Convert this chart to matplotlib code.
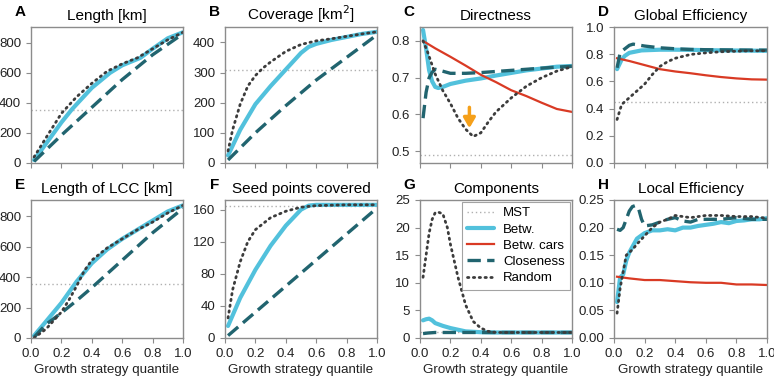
"""
plot.py — growth strategy comparison, 8 panels (A–H)
"""
import matplotlib
matplotlib.use("Agg")
import matplotlib.pyplot as plt
from matplotlib.lines import Line2D

plt.rcParams["font.family"] = ["Liberation Sans", "DejaVu Sans"]

COL_BETW = "#52c1dc"
COL_CARS = "#d93a24"
COL_CLOS = "#21646f"
COL_RAND = "#3c3c3c"
COL_MST = "#b0b0b0"

# ---- data: (x, y) per strategy -----------------------------------------
# A: Length [km]
A_MST = 355
A_betw_x = [0.02, 0.1, 0.2, 0.27, 0.4, 0.52, 0.6, 0.72, 0.8, 0.9, 1.0]
A_betw_y = [20, 130, 270, 358, 500, 600, 650, 700, 760, 830, 870]
A_rand_x = [0.02, 0.1, 0.2, 0.3, 0.4, 0.5, 0.6, 0.7, 0.8, 0.9, 1.0]
A_rand_y = [40, 170, 330, 440, 530, 610, 660, 700, 760, 820, 870]
A_clos_x = [0.02, 0.2, 0.4, 0.6, 0.8, 1.0]
A_clos_y = [10, 185, 370, 555, 720, 860]

# B: Coverage [km2]
B_MST = 308
B_betw_x = [0.02, 0.1, 0.2, 0.3, 0.4, 0.5, 0.55, 0.6, 0.7, 0.8, 0.9, 1.0]
B_betw_y = [25, 110, 195, 255, 310, 365, 385, 395, 408, 418, 428, 435]
B_rand_x = [0.02, 0.05, 0.1, 0.15, 0.2, 0.25, 0.3, 0.4, 0.5, 0.6, 0.7, 0.8, 0.9, 1.0]
B_rand_y = [40, 110, 195, 255, 290, 315, 335, 370, 393, 405, 412, 420, 428, 435]
B_clos_x = [0.02, 0.2, 0.4, 0.6, 0.8, 1.0]
B_clos_y = [10, 100, 190, 275, 350, 425]

# C: Directness
C_MST = 0.491
C_betw_x = [0.02, 0.04, 0.06, 0.08, 0.1, 0.12, 0.15, 0.2, 0.3, 0.4, 0.5, 0.6, 0.7, 0.8, 0.9, 1.0]
C_betw_y = [0.83, 0.78, 0.72, 0.69, 0.675, 0.672, 0.675, 0.683, 0.692, 0.698, 0.706, 0.713, 0.72, 0.725, 0.73, 0.732]
C_clos_x = [0.02, 0.04, 0.06, 0.08, 0.1, 0.13, 0.2, 0.3, 0.4, 0.5, 0.6, 0.7, 0.8, 0.9, 1.0]
C_clos_y = [0.59, 0.66, 0.70, 0.715, 0.723, 0.72, 0.712, 0.712, 0.714, 0.717, 0.72, 0.723, 0.726, 0.729, 0.731]
C_cars_x = [0.02, 0.1, 0.2, 0.3, 0.4, 0.5, 0.6, 0.7, 0.8, 0.9, 1.0]
C_cars_y = [0.80, 0.78, 0.757, 0.733, 0.708, 0.688, 0.666, 0.65, 0.632, 0.615, 0.607]
C_rand_x = [0.02, 0.05, 0.1, 0.15, 0.2, 0.25, 0.3, 0.35, 0.4, 0.45, 0.5, 0.6, 0.7, 0.8, 0.9, 1.0]
C_rand_y = [0.80, 0.77, 0.71, 0.665, 0.63, 0.59, 0.56, 0.54, 0.55, 0.58, 0.607, 0.645, 0.677, 0.70, 0.718, 0.73]
C_arrow_x = 0.325
C_arrow_y = (0.627, 0.555)

# D: Global Efficiency
D_MST = 0.447
D_betw_x = [0.02, 0.05, 0.07, 0.1, 0.18, 0.3, 0.4, 0.5, 0.6, 0.7, 0.8, 0.9, 1.0]
D_betw_y = [0.69, 0.76, 0.787, 0.81, 0.828, 0.833, 0.833, 0.832, 0.83, 0.828, 0.827, 0.826, 0.825]
D_clos_x = [0.02, 0.04, 0.06, 0.1, 0.125, 0.2, 0.3, 0.4, 0.5, 0.6, 0.7, 0.8, 0.9, 1.0]
D_clos_y = [0.70, 0.81, 0.83, 0.865, 0.874, 0.86, 0.847, 0.84, 0.835, 0.833, 0.832, 0.831, 0.83, 0.83]
D_cars_x = [0.02, 0.1, 0.2, 0.3, 0.4, 0.5, 0.6, 0.7, 0.8, 0.9, 1.0]
D_cars_y = [0.77, 0.75, 0.72, 0.69, 0.673, 0.66, 0.645, 0.632, 0.622, 0.615, 0.613]
D_rand_x = [0.02, 0.05, 0.1, 0.15, 0.2, 0.25, 0.3, 0.35, 0.4, 0.5, 0.6, 0.7, 0.8, 0.9, 1.0]
D_rand_y = [0.32, 0.43, 0.48, 0.53, 0.58, 0.65, 0.71, 0.745, 0.77, 0.798, 0.81, 0.818, 0.822, 0.825, 0.825]

# E: Length of LCC [km]
E_MST = 355
E_betw_x = [0.02, 0.1, 0.2, 0.3, 0.4, 0.5, 0.6, 0.7, 0.8, 0.9, 1.0]
E_betw_y = [15, 110, 230, 370, 490, 580, 650, 710, 770, 830, 870]
E_rand_x = [0.02, 0.1, 0.2, 0.25, 0.3, 0.35, 0.4, 0.5, 0.6, 0.7, 0.8, 0.9, 1.0]
E_rand_y = [0, 60, 170, 250, 340, 440, 510, 590, 650, 710, 760, 820, 870]
E_clos_x = [0.02, 0.1, 0.2, 0.3, 0.4, 0.5, 0.6, 0.7, 0.8, 0.9, 1.0]
E_clos_y = [5, 90, 165, 245, 330, 420, 510, 600, 690, 770, 850]

# F: Seed points covered
F_MST = 165
F_betw_x = [0.02, 0.1, 0.2, 0.3, 0.4, 0.5, 0.55, 0.6, 0.8, 1.0]
F_betw_y = [15, 50, 85, 115, 140, 160, 165, 166, 166, 166]
F_rand_x = [0.02, 0.05, 0.1, 0.15, 0.2, 0.3, 0.4, 0.5, 0.6, 0.8, 1.0]
F_rand_y = [25, 60, 95, 120, 135, 150, 158, 163, 165, 166, 166]
F_clos_x = [0.02, 1.0]
F_clos_y = [3, 162]

# G: Components
G_MST = 1
G_betw_x = [0.02, 0.04, 0.06, 0.08, 0.1, 0.15, 0.2, 0.25, 0.3, 0.4, 0.5, 1.0]
G_betw_y = [3.2, 3.4, 3.5, 3.2, 2.7, 2.2, 1.8, 1.5, 1.2, 1.05, 1.0, 1.0]
G_clos_x = [0.02, 0.05, 0.1, 1.0]
G_clos_y = [0.8, 0.9, 1.0, 1.0]
G_rand_x = [0.02, 0.04, 0.06, 0.08, 0.1, 0.12, 0.15, 0.18, 0.2, 0.25, 0.3, 0.35, 0.4, 0.45, 0.5, 1.0]
G_rand_y = [11, 15, 19, 21.5, 22.7, 22.8, 22.5, 20, 17, 11, 6, 3, 1.8, 1.2, 1.0, 1.0]

# H: Local Efficiency
H_betw_x = [0.02, 0.04, 0.06, 0.08, 0.1, 0.12, 0.15, 0.2, 0.25, 0.3, 0.35, 0.4, 0.45,
            0.5, 0.55, 0.6, 0.65, 0.7, 0.75, 0.8, 0.85, 0.9, 0.95, 1.0]
H_betw_y = [0.065, 0.11, 0.115, 0.14, 0.155, 0.165, 0.18, 0.19, 0.195, 0.195, 0.197, 0.195, 0.2,
            0.2, 0.203, 0.205, 0.207, 0.21, 0.208, 0.212, 0.213, 0.215, 0.215, 0.217]
H_clos_x = [0.02, 0.04, 0.06, 0.08, 0.1, 0.12, 0.14, 0.16, 0.18, 0.2, 0.25, 0.3, 0.35, 0.4,
            0.45, 0.5, 0.55, 0.6, 0.7, 0.8, 0.9, 1.0]
H_clos_y = [0.197, 0.195, 0.20, 0.215, 0.23, 0.238, 0.24, 0.235, 0.215, 0.203, 0.205, 0.21, 0.215, 0.218,
            0.212, 0.21, 0.215, 0.215, 0.215, 0.218, 0.215, 0.215]
H_rand_x = [0.02, 0.04, 0.06, 0.08, 0.1, 0.12, 0.15, 0.2, 0.25, 0.3, 0.35, 0.4, 0.5, 0.6, 0.7, 0.8, 0.9, 1.0]
H_rand_y = [0.045, 0.09, 0.12, 0.15, 0.155, 0.16, 0.17, 0.185, 0.2, 0.21, 0.215, 0.222, 0.218, 0.222,
            0.222, 0.22, 0.22, 0.217]
H_cars_x = [0.02, 0.1, 0.2, 0.3, 0.4, 0.5, 0.6, 0.7, 0.8, 0.9, 1.0]
H_cars_y = [0.111, 0.108, 0.105, 0.105, 0.103, 0.101, 0.100, 0.100, 0.097, 0.097, 0.096]

# ---- styles ------------------------------------------------------------
ST_MST = dict(color=COL_MST, lw=1.0, ls=(0, (1, 2)))
ST_BETW = dict(color=COL_BETW, lw=3.0, solid_capstyle="round")
ST_CARS = dict(color=COL_CARS, lw=1.6)
ST_CLOS = dict(color=COL_CLOS, lw=2.4, ls=(0, (4, 1.9)))
ST_RAND = dict(color=COL_RAND, lw=2.0, ls=(0, (0.5, 1.6)), dash_capstyle="round")


def style_axes(ax, letter, title, bottom):
    for s in ax.spines.values():
        s.set_color("#8c8c8c")
        s.set_linewidth(1.0)
    ax.tick_params(colors="#8c8c8c", labelcolor="#222222", labelsize=9.5,
                   length=3.5, pad=3.5)
    ax.set_xlim(0, 1)
    ax.set_xticks([0, 0.2, 0.4, 0.6, 0.8, 1.0])
    if bottom:
        ax.set_xlabel("Growth strategy quantile", fontsize=9.6, color="#222222",
                      labelpad=3)
    else:
        ax.set_xticklabels([])
    ax.set_title(title, fontsize=11, pad=5)
    ax.text(-0.07, 1.06, letter, transform=ax.transAxes, fontsize=11,
            fontweight="bold", ha="center", va="bottom")


fig = plt.figure(figsize=(7.74, 3.79), dpi=100)
W, H = 774.0, 379.0
cols = [(31, 152), (225, 152), (420, 152), (614, 153)]
rows = [(27, 163), (200, 338)]


def make_ax(r, c):
    left, w = cols[c]
    top, bot = rows[r]
    return fig.add_axes([left / W, 1 - bot / H, w / W, (bot - top) / H])


# A
ax = make_ax(0, 0)
ax.axhline(A_MST, **ST_MST)
ax.plot(A_betw_x, A_betw_y, **ST_BETW)
ax.plot(A_clos_x, A_clos_y, **ST_CLOS)
ax.plot(A_rand_x, A_rand_y, **ST_RAND)
ax.set_ylim(0, 905)
ax.set_yticks([0, 200, 400, 600, 800])
style_axes(ax, "A", "Length [km]", False)

# B
ax = make_ax(0, 1)
ax.axhline(B_MST, **ST_MST)
ax.plot(B_betw_x, B_betw_y, **ST_BETW)
ax.plot(B_clos_x, B_clos_y, **ST_CLOS)
ax.plot(B_rand_x, B_rand_y, **ST_RAND)
ax.set_ylim(0, 451)
ax.set_yticks([0, 100, 200, 300, 400])
style_axes(ax, "B", "Coverage [km$^2$]", False)

# C
ax = make_ax(0, 2)
ax.axhline(C_MST, **ST_MST)
ax.plot(C_betw_x, C_betw_y, **ST_BETW)
ax.plot(C_cars_x, C_cars_y, **ST_CARS)
ax.plot(C_clos_x, C_clos_y, **ST_CLOS)
ax.plot(C_rand_x, C_rand_y, **ST_RAND)
ax.annotate("", xy=(C_arrow_x, C_arrow_y[1]), xytext=(C_arrow_x, C_arrow_y[0]),
            arrowprops=dict(arrowstyle="-|>,head_width=0.35,head_length=0.6",
                            color="#f5a01a", lw=2.5))
ax.set_ylim(0.468, 0.838)
ax.set_yticks([0.5, 0.6, 0.7, 0.8])
style_axes(ax, "C", "Directness", False)

# D
ax = make_ax(0, 3)
ax.axhline(D_MST, **ST_MST)
ax.plot(D_betw_x, D_betw_y, **ST_BETW)
ax.plot(D_cars_x, D_cars_y, **ST_CARS)
ax.plot(D_clos_x, D_clos_y, **ST_CLOS)
ax.plot(D_rand_x, D_rand_y, **ST_RAND)
ax.set_ylim(0, 1.0)
ax.set_yticks([0, 0.2, 0.4, 0.6, 0.8, 1.0])
style_axes(ax, "D", "Global Efficiency", False)

# E
ax = make_ax(1, 0)
ax.axhline(E_MST, **ST_MST)
ax.plot(E_betw_x, E_betw_y, **ST_BETW)
ax.plot(E_clos_x, E_clos_y, **ST_CLOS)
ax.plot(E_rand_x, E_rand_y, **ST_RAND)
ax.set_ylim(0, 905)
ax.set_yticks([0, 200, 400, 600, 800])
style_axes(ax, "E", "Length of LCC [km]", True)

# F
ax = make_ax(1, 1)
ax.axhline(F_MST, **ST_MST)
ax.plot(F_betw_x, F_betw_y, **ST_BETW)
ax.plot(F_clos_x, F_clos_y, **ST_CLOS)
ax.plot(F_rand_x, F_rand_y, **ST_RAND)
ax.set_ylim(0, 172)
ax.set_yticks([0, 40, 80, 120, 160])
style_axes(ax, "F", "Seed points covered", True)

# G
ax = make_ax(1, 2)
ax.axhline(G_MST, **ST_MST)
ax.plot(G_betw_x, G_betw_y, **ST_BETW)
ax.plot(G_clos_x, G_clos_y, **ST_CLOS)
ax.plot(G_rand_x, G_rand_y, **ST_RAND)
ax.set_ylim(0, 25)
ax.set_yticks([0, 5, 10, 15, 20, 25])
style_axes(ax, "G", "Components", True)
handles = [Line2D([], [], **ST_MST), Line2D([], [], **ST_BETW), Line2D([], [], **ST_CARS),
           Line2D([], [], **ST_CLOS), Line2D([], [], **ST_RAND)]
labels = ["MST", "Betw.", "Betw. cars", "Closeness", "Random"]
leg = ax.legend(handles, labels, loc="upper right", fontsize=9.5, frameon=True,
                fancybox=False, edgecolor="#8c8c8c", handlelength=2.0,
                handletextpad=0.7, borderaxespad=0.15, labelspacing=0.3,
                borderpad=0.4)
leg.get_frame().set_linewidth(0.8)

# H
ax = make_ax(1, 3)
ax.plot(H_betw_x, H_betw_y, **ST_BETW)
ax.plot(H_cars_x, H_cars_y, **ST_CARS)
ax.plot(H_clos_x, H_clos_y, **ST_CLOS)
ax.plot(H_rand_x, H_rand_y, **ST_RAND)
ax.set_ylim(0, 0.25)
ax.set_yticks([0, 0.05, 0.10, 0.15, 0.20, 0.25])
ax.set_yticklabels(["0.00", "0.05", "0.10", "0.15", "0.20", "0.25"])
style_axes(ax, "H", "Local Efficiency", True)

fig.savefig("out.png", dpi=100)
plt.close(fig)
